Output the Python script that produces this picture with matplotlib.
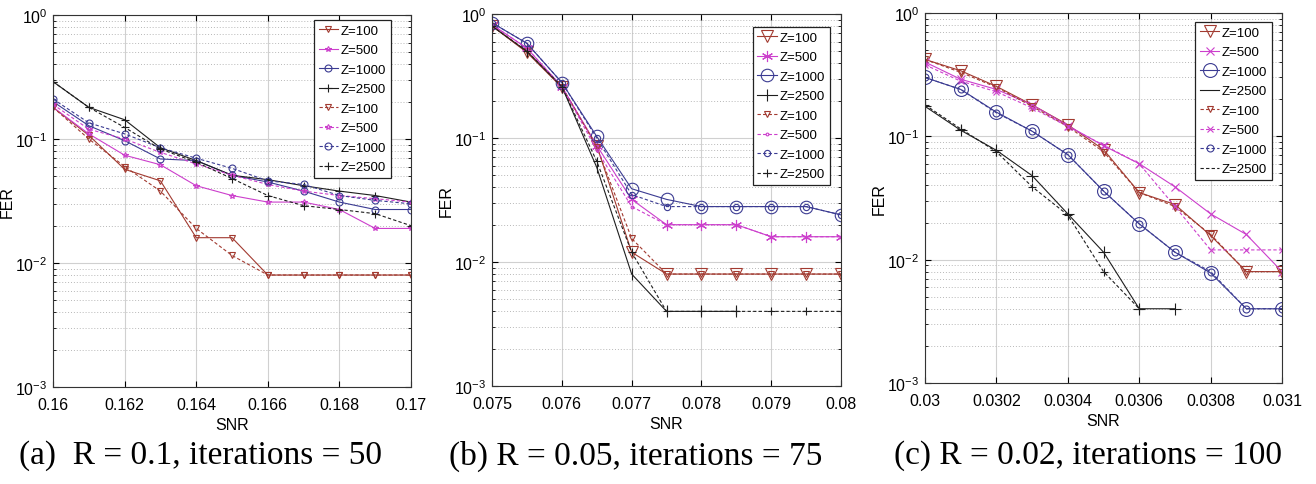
import numpy as np
import matplotlib
matplotlib.use("Agg")
from matplotlib import pyplot as plt
from matplotlib.lines import Line2D
from matplotlib.ticker import LogLocator, NullFormatter

plt.rcParams["font.family"] = ["Liberation Sans", "DejaVu Sans"]

LABELS = ["Z=100", "Z=500", "Z=1000", "Z=2500"]
COLORS = ["#a23a30", "#cc3fcc", "#3b3b92", "#1e1e1e"]

# ---------------------------------------------------------------- data
# (a) R = 0.1, iterations = 50
a_snr = [0.160, 0.161, 0.162, 0.163, 0.164, 0.165, 0.166, 0.167, 0.168, 0.169, 0.170]
a_solid = [
    [0.18, 0.107, 0.057, 0.046, 0.016, 0.016, 0.008, 0.008, 0.008, 0.008, 0.008],
    [0.18, 0.11, 0.074, 0.062, 0.042, 0.035, 0.031, 0.031, 0.027, 0.019, 0.019],
    [0.20, 0.128, 0.097, 0.069, 0.067, 0.051, 0.045, 0.038, 0.031, 0.027, 0.027],
    [0.29, 0.18, 0.143, 0.085, 0.067, 0.051, 0.047, 0.042, 0.038, 0.035, 0.031],
]
a_dash = [
    [0.18, 0.10, 0.06, 0.038, 0.019, 0.0115, 0.008, 0.008, 0.008, 0.008, 0.008],
    [0.19, 0.12, 0.10, 0.078, 0.063, 0.051, 0.043, 0.038, 0.035, 0.033, 0.031],
    [0.21, 0.135, 0.11, 0.085, 0.07, 0.058, 0.046, 0.043, 0.035, 0.032, 0.030],
    [0.29, 0.18, 0.124, 0.083, 0.065, 0.048, 0.035, 0.029, 0.027, 0.025, 0.020],
]
a_ticks = [0.16, 0.162, 0.164, 0.166, 0.168, 0.17]

# (b) R = 0.05, iterations = 75
b_snr = [0.075, 0.0755, 0.076, 0.0765, 0.077, 0.0775, 0.078, 0.0785, 0.079, 0.0795, 0.080]
b_solid = [
    [0.80, 0.49, 0.256, 0.087, 0.012, 0.008, 0.008, 0.008, 0.008, 0.008, 0.008],
    [0.82, 0.53, 0.26, 0.087, 0.032, 0.020, 0.020, 0.020, 0.016, 0.016, 0.016],
    [0.85, 0.58, 0.28, 0.103, 0.039, 0.032, 0.028, 0.028, 0.028, 0.028, 0.024],
    [0.80, 0.50, 0.26, 0.058, 0.008, 0.004, 0.004, 0.004],
]
b_dash = [
    [0.80, 0.50, 0.26, 0.085, 0.0155, 0.008, 0.008, 0.008, 0.008, 0.008, 0.008],
    [0.82, 0.53, 0.26, 0.080, 0.028, 0.020, 0.020, 0.020, 0.016, 0.016, 0.016],
    [0.85, 0.58, 0.28, 0.100, 0.035, 0.028, 0.028, 0.028, 0.028, 0.028, 0.024],
    [0.80, 0.50, 0.26, 0.065, 0.012, 0.004, 0.004, 0.004, 0.004, 0.004, 0.004],
]
b_ticks = [0.075, 0.076, 0.077, 0.078, 0.079, 0.08]

# (c) R = 0.02, iterations = 100
c_snr = [0.0300, 0.0301, 0.0302, 0.0303, 0.0304, 0.0305, 0.0306, 0.0307, 0.0308, 0.0309, 0.0310]
c_solid = [
    [0.42, 0.34, 0.254, 0.18, 0.124, 0.078, 0.035, 0.028, 0.0157, 0.008, 0.008],
    [0.40, 0.29, 0.24, 0.18, 0.122, 0.084, 0.060, 0.039, 0.0235, 0.016, 0.008],
    [0.30, 0.24, 0.157, 0.11, 0.071, 0.036, 0.0195, 0.0115, 0.0078, 0.004, 0.004],
    [0.175, 0.112, 0.077, 0.048, 0.0235, 0.0115, 0.004, 0.004],
]
c_dash = [
    [0.42, 0.33, 0.25, 0.175, 0.12, 0.075, 0.035, 0.027, 0.016, 0.008, 0.008],
    [0.38, 0.28, 0.23, 0.17, 0.12, 0.085, 0.060, 0.027, 0.012, 0.012, 0.012],
    [0.30, 0.24, 0.155, 0.11, 0.071, 0.036, 0.0195, 0.0115, 0.008, 0.004, 0.004],
    [0.18, 0.115, 0.075, 0.039, 0.023, 0.008, 0.004],
]
c_ticks = [0.03, 0.0302, 0.0304, 0.0306, 0.0308, 0.031]

captions = ["(a)  R = 0.1, iterations = 50",
            "(b) R = 0.05, iterations = 75",
            "(c) R = 0.02, iterations = 100"]

# ---------------------------------------------------------------- style per panel
AST = (6, 2, 0)   # MATLAB-like asterisk
panels = [
    dict(x=a_snr, solid=a_solid, dash=a_dash, ticks=a_ticks,
         pos=[0.0403, 0.200, 0.272, 0.767], cap_x=201,
         m_s=[("v", 5), ("*", 4), ("o", 5), ("+", 6)],
         m_d=[("v", 5), ("*", 4), ("o", 5), ("+", 6)],
         leg=(0.944, 0.987), leg_markers=True),
    dict(x=b_snr, solid=b_solid, dash=b_dash, ticks=b_ticks,
         pos=[0.3739, 0.202, 0.2652, 0.767], cap_x=636,
         m_s=[("v", 8), (AST, 8), ("o", 9), ("|", 9)],
         m_d=[("v", 5), (".", 4), ("o", 4.5), ("+", 6)],
         leg=(0.968, 0.965), leg_markers=True),
    dict(x=c_snr, solid=c_solid, dash=c_dash, ticks=c_ticks,
         pos=[0.7029, 0.2082, 0.2713, 0.763], cap_x=1088,
         m_s=[("v", 9), ("x", 6), ("o", 10), ("+", 9)],
         m_d=[("v", 5), ("x", 4), ("o", 5), ("+", 6)],
         leg=(0.972, 0.976), leg_markers=False),
]

W, H = 1316, 485
fig = plt.figure(figsize=(W / 100, H / 100), dpi=100)

for k, p in enumerate(panels):
    ax = fig.add_axes(p["pos"])
    handles = []
    for style, series, marks in (("-", p["solid"], p["m_s"]),
                                 ((0, (3, 2)), p["dash"], p["m_d"])):
        for i, y in enumerate(series):
            m, ms = marks[i]
            ax.plot(p["x"][:len(y)], y, linestyle=style, color=COLORS[i], lw=0.8,
                    marker=m, ms=ms, mfc="none", mec=COLORS[i], mew=0.8)
            show_m = p["leg_markers"] or i < 3
            handles.append(Line2D([], [], linestyle=style, color=COLORS[i], lw=0.8,
                                  marker=m if show_m else None, ms=ms, mfc="none",
                                  mec=COLORS[i], mew=0.8))
    ax.set_yscale("log")
    ax.set_ylim(1e-3, 1)
    ax.set_xlim(p["ticks"][0], p["ticks"][-1])
    ax.set_xticks(p["ticks"])
    ax.set_xticklabels(["%g" % t for t in p["ticks"]])
    ax.yaxis.set_minor_locator(LogLocator(base=10, subs=np.arange(2, 10)))
    ax.yaxis.set_minor_formatter(NullFormatter())
    ax.grid(True, which="major", color="#d0d0d0", lw=0.8, ls="-")
    ax.grid(True, which="minor", axis="y", color="#b8b8b8", lw=0.7, ls=(0, (1, 2)))
    ax.set_axisbelow(True)
    ax.tick_params(which="both", direction="in", top=True, right=True,
                   labelsize=11.5, length=4)
    ax.tick_params(axis="x", pad=7)
    ax.tick_params(axis="y", pad=4)
    ax.tick_params(which="minor", length=2)
    for s in ax.spines.values():
        s.set_color("#333333")
        s.set_linewidth(0.8)
    ax.set_xlabel("SNR", fontsize=11.5, labelpad=4)
    ax.set_ylabel("FER", fontsize=11.5, labelpad=0)
    leg = ax.legend(handles, LABELS + LABELS, loc="upper right",
                    bbox_to_anchor=p["leg"], fontsize=9.5, frameon=True,
                    fancybox=False, edgecolor="#222222", framealpha=1,
                    handlelength=1.5, handletextpad=0.2, labelspacing=0.55,
                    borderpad=0.35, borderaxespad=0)
    leg.get_frame().set_linewidth(0.9)
    fig.text(p["cap_x"] / W, 1 - 456 / H, captions[k], ha="center", va="center",
             family="Liberation Serif", fontsize=24)

fig.savefig("out.png", dpi=100)
